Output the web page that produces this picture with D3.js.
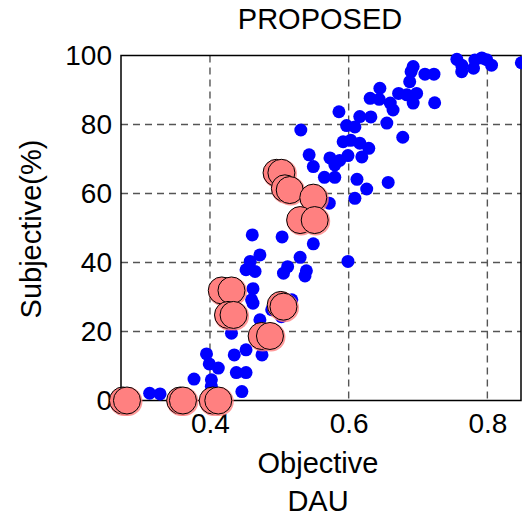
<!DOCTYPE html>
<html>
<head>
<meta charset="utf-8">
<script src="https://cdn.jsdelivr.net/npm/d3@7"></script>
<style>
  body { margin: 0; background: #fff; }
  text { font-family: "Liberation Sans", Arial, sans-serif; }
</style>
</head>
<body>
<div id="painting"></div>
<script>
// blue points: all samples (objective, subjective %)
var blueX = [0.313,0.328,0.377,0.395,0.399,0.412,0.402,0.402,0.435,0.438,0.452,0.446,0.452,0.475,0.431,0.472,0.462,0.503,0.489,0.518,
  0.460,0.462,0.452,0.465,0.458,0.472,0.461,0.504,0.549,0.530,0.512,0.506,0.539,0.537,0.599,0.609,0.572,0.626,0.612,0.657,
  0.565,0.580,0.549,0.543,0.573,0.580,0.587,0.599,0.619,0.592,0.603,0.616,0.629,0.531,0.597,0.609,0.616,0.632,0.655,0.678,
  0.586,0.645,0.631,0.644,0.660,0.664,0.672,0.684,0.693,0.698,0.724,0.688,0.690,0.693,0.710,0.723,0.756,0.763,0.763,0.780,
  0.782,0.792,0.799,0.806,0.849];
var blueY = [2.1,1.9,6.2,13.5,10.6,9.4,6.0,4.1,13.2,8.1,8.1,2.6,14.7,13.2,19.5,23.4,28.2,24.3,26.3,29.2,
  29.2,32.4,37.9,37.4,40.3,42.2,48.0,47.4,45.4,41.5,38.8,36.9,37.6,36.1,40.3,58.6,57.2,61.3,64.1,63.2,
  64.7,64.7,67.8,71.2,70.3,68.3,69.6,71.0,70.6,75.0,75.4,74.6,73.1,78.4,79.7,79.3,82.3,82.2,80.4,76.3,
  83.7,90.5,87.6,87.3,86.2,84.2,89.0,88.6,86.2,89.0,86.3,92.4,95.3,96.8,94.6,94.6,98.9,97.2,95.3,96.3,
  98.7,99.3,98.8,97.2,97.9];

// red points: highlighted samples
var redX = [0.2745,0.2803,0.357,0.361,0.404,0.412,0.417,0.431,0.426,0.434,0.4745,0.4865,0.502,0.506,
  0.496,0.503,0.508,0.515,0.549,0.530,0.551];
var redY = [0,0,0,0,0,0,31.9,31.9,24.8,24.8,18.7,18.7,27.7,27.2,66.0,66.0,61.5,61.0,58.8,52.3,52.3];

var xTicks = [0.4, 0.6, 0.8];
var yTicks = [0, 20, 40, 60, 80, 100];

var W = 522, H = 517;
var plotL = 121, plotR = 521, plotT = 55.5, plotB = 400.5;

var xScale = d3.scaleLinear().domain([0.2717, 0.8485]).range([plotL, plotR]);
var yScale = d3.scaleLinear().domain([0, 100]).range([plotB, plotT]);

var svg = d3.select("#painting").append("svg")
  .attr("width", W).attr("height", H);

// grid
svg.append("g").selectAll("line")
  .data(xTicks).enter().append("line")
  .attr("x1", function(d){ return xScale(d); })
  .attr("x2", function(d){ return xScale(d); })
  .attr("y1", plotT).attr("y2", plotB)
  .attr("stroke", "#555").attr("stroke-width", 1.4)
  .attr("stroke-dasharray", "7,5");
svg.append("g").selectAll("line")
  .data(yTicks.slice(1, 5)).enter().append("line")
  .attr("x1", plotL).attr("x2", plotR)
  .attr("y1", function(d){ return yScale(d); })
  .attr("y2", function(d){ return yScale(d); })
  .attr("stroke", "#555").attr("stroke-width", 1.4)
  .attr("stroke-dasharray", "7,5");

// box
svg.append("rect")
  .attr("x", plotL).attr("y", plotT)
  .attr("width", plotR - plotL).attr("height", plotB - plotT)
  .attr("fill", "none").attr("stroke", "#000").attr("stroke-width", 1.5);

// axes (labels only, MATLAB style)
var xAxis = d3.axisBottom(xScale).tickValues(xTicks).tickSize(0).tickPadding(13)
  .tickFormat(d3.format(".1f"));
var gx = svg.append("g").attr("transform", "translate(0," + plotB + ")").call(xAxis);
gx.select(".domain").remove();
gx.attr("font-size", 28).attr("font-family", "Liberation Sans, Arial, sans-serif");
gx.selectAll("text").attr("fill", "#000");

var yAxis = d3.axisLeft(yScale).tickValues(yTicks).tickSize(0).tickPadding(9);
var gy = svg.append("g").attr("transform", "translate(" + plotL + ",0)").call(yAxis);
gy.select(".domain").remove();
gy.attr("font-size", 28).attr("font-family", "Liberation Sans, Arial, sans-serif");
gy.selectAll("text").attr("fill", "#000");

// blue points
svg.append("g").selectAll("circle")
  .data(d3.range(blueX.length)).enter().append("circle")
  .attr("cx", function(i){ return xScale(blueX[i]); })
  .attr("cy", function(i){ return yScale(blueY[i]); })
  .attr("r", 6.5)
  .attr("fill", "#0000ff");

// red points: halo then outlined circle
var red = svg.append("g").selectAll("g")
  .data(d3.range(redX.length)).enter().append("g");
red.append("circle")
  .attr("cx", function(i){ return xScale(redX[i]) + 1; })
  .attr("cy", function(i){ return yScale(redY[i]) + 1; })
  .attr("r", 14.5)
  .attr("fill", "#ff8080").attr("opacity", 0.8);
red.append("circle")
  .attr("cx", function(i){ return xScale(redX[i]); })
  .attr("cy", function(i){ return yScale(redY[i]); })
  .attr("r", 13.5)
  .attr("fill", "#ff8080")
  .attr("stroke", "#000").attr("stroke-width", 1);

// titles
svg.append("text").attr("x", 320).attr("y", 29)
  .attr("text-anchor", "middle").attr("font-size", 29).text("PROPOSED");
svg.append("text").attr("x", 318).attr("y", 473)
  .attr("text-anchor", "middle").attr("font-size", 29).text("Objective");
svg.append("text").attr("x", 318).attr("y", 511)
  .attr("text-anchor", "middle").attr("font-size", 29).text("DAU");
svg.append("text").attr("transform", "translate(41,229) rotate(-90)")
  .attr("text-anchor", "middle").attr("font-size", 29).text("Subjective(%)");
</script>
</body>
</html>
